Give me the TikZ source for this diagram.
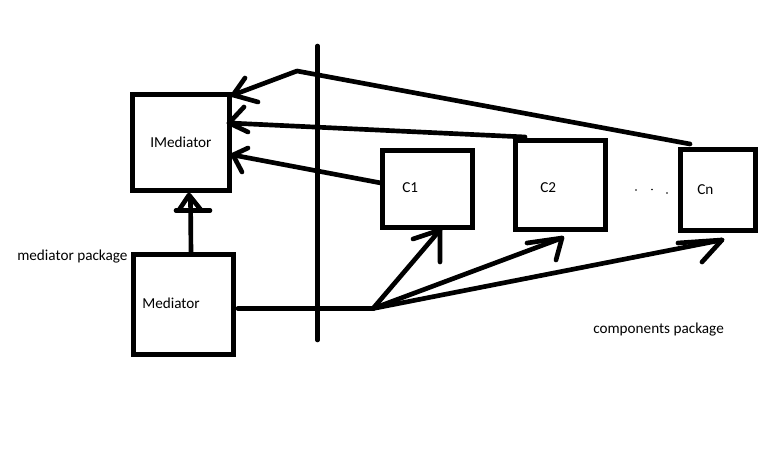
\documentclass[tikz,border=0pt]{standalone}
\usepackage{fontspec}
\setmainfont{Carlito}
\begin{document}
\begin{tikzpicture}[x=0.75pt,y=-0.75pt,
  stroke/.style={line width=3.5pt, line cap=round, line join=round},
  box/.style={draw, line width=3.6pt, inner sep=0pt, outer sep=0pt},
  lbl/.style={font=\fontsize{11.4}{13}\selectfont, inner sep=0pt, anchor=base west},
]
\useasboundingbox[fill=white] (0,0) rectangle (767,474);

% classes
\node[box, minimum width=72.75pt, minimum height=72pt]  (imed) at (181,142.5) {};
\node[box, minimum width=75pt,    minimum height=75pt]  (med)  at (183.5,304.5) {};
\node[box, minimum width=67.5pt,  minimum height=57.75pt] (c1) at (427.5,189) {};
\node[box, minimum width=67.5pt,  minimum height=66.75pt] (c2) at (560.5,185) {};
\node[box, minimum width=56.25pt, minimum height=60.75pt] (cn) at (718,190) {};

% class names and package names
\node[lbl] (imedtxt) at (150,147) {IMediator};
\node[lbl] (medtxt)  at (142,308) {Mediator};
\node[lbl] (c1txt)   at (402,192) {C1};
\node[lbl] (c2txt)   at (540,192) {C2};
\node[lbl] (cntxt)   at (697,195) {Cn};
\node[lbl] (mpkg)    at (17,260)  {mediator package};
\node[lbl] (cpkg)    at (593,333) {components package};

% ellipsis between C2 and Cn
\fill (636,190) circle (0.9) (652,189.5) circle (0.9) (667,193) circle (0.9);

% package divider
\coordinate (divtop) at (317.5,46);
\coordinate (divbot) at (317.5,340);
\draw[stroke] (divtop) -- (divbot);

% Mediator implements IMediator
\coordinate (medtop) at (191,254);
\coordinate (apex)   at (189,195);
\coordinate (legl)   at (179,210);
\coordinate (legr)   at (201,210);
\coordinate (basel)  at (176,210.5);
\coordinate (baser)  at (210,210.5);
\draw[stroke] (medtop) -- (190.5,198);
\draw[stroke] (legl) -- (apex) -- (legr);
\draw[stroke] (basel) -- (baser);

% components talk to IMediator
\coordinate (cnend) at (690,144);
\coordinate (bend)  at (297,71);
\coordinate (tipa)  at (233,95);
\coordinate (tipa1) at (245,78);
\coordinate (tipa2) at (258,102);
\draw[stroke] (cnend) -- (bend) -- (tipa);
\draw[stroke] (tipa1) -- (tipa) -- (tipa2);

\coordinate (c2end) at (525,137);
\coordinate (tipb)  at (229,123);
\coordinate (tipb1) at (244,107);
\coordinate (tipb2) at (248,132);
\draw[stroke] (c2end) -- (tipb);
\draw[stroke] (tipb1) -- (tipb) -- (tipb2);

\coordinate (c1end) at (381,183);
\coordinate (tipc)  at (233,155);
\coordinate (tipc1) at (248,148);
\coordinate (tipc2) at (242,172);
\draw[stroke] (c1end) -- (tipc);
\draw[stroke] (tipc1) -- (tipc) -- (tipc2);

% Mediator knows the components
\coordinate (medend) at (238,308.5);
\coordinate (fan)    at (373,308.5);
\draw[stroke] (medend) -- (fan);

\coordinate (tipd)  at (440,230);
\coordinate (tipd1) at (413,239);
\coordinate (tipd2) at (440,262);
\draw[stroke] (fan) -- (tipd);
\draw[stroke] (tipd1) -- (tipd) -- (tipd2);

\coordinate (tipe)  at (562,238);
\coordinate (tipe1) at (527,243);
\coordinate (tipe2) at (556,260);
\draw[stroke] (fan) -- (tipe);
\draw[stroke] (tipe1) -- (tipe) -- (tipe2);

\coordinate (tipf)  at (722,240);
\coordinate (tipf1) at (678,243);
\coordinate (tipf2) at (702,262);
\draw[stroke] (fan) -- (tipf);
\draw[stroke] (tipf1) -- (tipf) -- (tipf2);
\end{tikzpicture}
\end{document}
